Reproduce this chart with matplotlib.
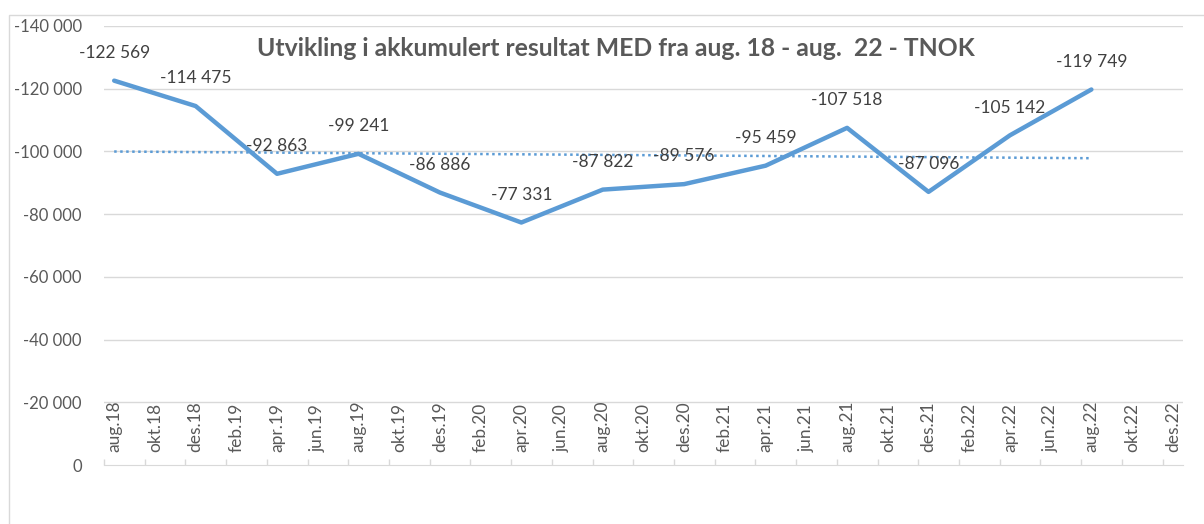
import numpy as np
import matplotlib
matplotlib.use("Agg")
import matplotlib.pyplot as plt
from matplotlib.patches import Rectangle
from matplotlib.ticker import FixedLocator

plt.rcParams['font.family'] = ['Lato', 'DejaVu Sans']

title = "Utvikling i akkumulert resultat MED fra aug. 18 - aug.  22 - TNOK"

# category axis: every second month, aug.18 - des.22
tick_labels = ['aug.18', 'okt.18', 'des.18',
               'feb.19', 'apr.19', 'jun.19', 'aug.19', 'okt.19', 'des.19',
               'feb.20', 'apr.20', 'jun.20', 'aug.20', 'okt.20', 'des.20',
               'feb.21', 'apr.21', 'jun.21', 'aug.21', 'okt.21', 'des.21',
               'feb.22', 'apr.22', 'jun.22', 'aug.22', 'okt.22', 'des.22']

# measured points (every fourth month)
point_labels = ['aug.18', 'des.18', 'apr.19', 'aug.19', 'des.19', 'apr.20', 'aug.20',
                'des.20', 'apr.21', 'aug.21', 'des.21', 'apr.22', 'aug.22']
values = [-122569, -114475, -92863, -99241, -86886, -77331, -87822,
          -89576, -95459, -107518, -87096, -105142, -119749]

y_ticks = [0, -20000, -40000, -60000, -80000, -100000, -120000, -140000]

blue = '#5B9BD5'
grey_txt = '#595959'
grid_col = '#D9D9D9'


def fmt(v):
    return f"{v:,}".replace(',', ' ')


W, H = 1204, 524
fig = plt.figure(figsize=(W / 100, H / 100), dpi=100)
ax = fig.add_axes([104 / W, 1 - 465 / H, (1183 - 104) / W, (465 - 26) / H])

# month index: each tick label covers two months
tick_x = [2 * i for i in range(len(tick_labels))]
px = np.array([2 * tick_labels.index(p) for p in point_labels])
vals = np.array(values)

ax.set_xlim(-0.5, 2 * len(tick_labels) - 1.5)
ax.set_ylim(0, -140000)

for y in y_ticks[1:]:
    ax.axhline(y, color=grid_col, lw=1, zorder=0)

ax.plot(px, vals, color=blue, lw=3.2, solid_capstyle='round', solid_joinstyle='round', zorder=3)

# linear trend line
k, m = np.polyfit(px, vals, 1)
tx = np.array([px[0], px[-1]])
ax.plot(tx, k * tx + m, color=blue, lw=1.8, linestyle=(0, (1, 1.4)), zorder=2)

for x, v in zip(px, vals):
    ax.annotate(fmt(v), (x, v), xytext=(0, 20), textcoords='offset points',
                ha='center', va='center', fontsize=12.5, color='#404040', zorder=4)

for s in ['top', 'left', 'right']:
    ax.spines[s].set_visible(False)
ax.spines['bottom'].set_color(grid_col)

ax.set_yticks(y_ticks)
ax.set_yticklabels([fmt(v) for v in y_ticks])
ax.tick_params(axis='y', length=0, pad=16, labelsize=12, labelcolor=grey_txt)

ax.set_xticks(tick_x)
ax.set_xticklabels(tick_labels, rotation=90)
ax.tick_params(axis='x', which='major', length=0, pad=-9.5, labelsize=12.5, labelcolor=grey_txt)
for t in ax.get_xticklabels():
    t.set_va('bottom')
ax.xaxis.set_minor_locator(FixedLocator([x - 0.5 for x in tick_x]))
ax.tick_params(axis='x', which='minor', direction='in', length=4.5, color=grid_col, width=1)

fig.text(616 / W, 1 - 48 / H, title, ha='center', va='center',
         fontsize=17.8, fontweight='bold', color=grey_txt)

fig.patches.append(Rectangle((9 / W, -0.1), 1.2, 1 - 15 / H + 0.1, transform=fig.transFigure,
                             fill=False, ec=grid_col, lw=1))

fig.savefig('out.png', dpi=100)
